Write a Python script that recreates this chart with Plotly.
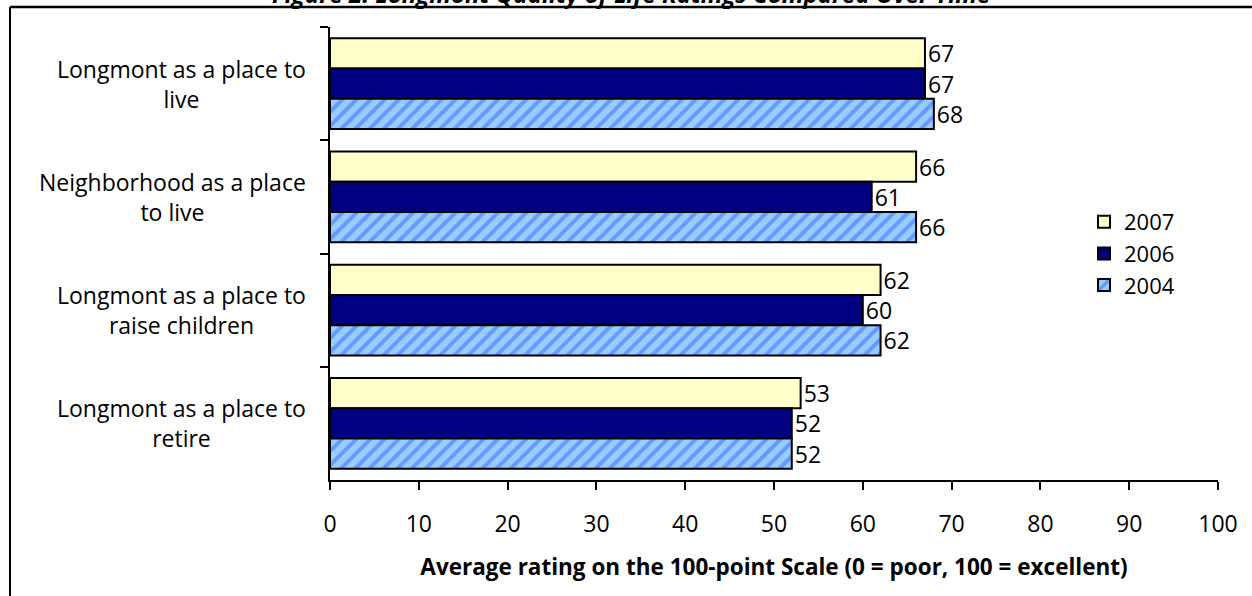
import plotly.graph_objects as go

# categories top to bottom
categories = [
    "Longmont as a place to<br>live",
    "Neighborhood as a place<br>to live",
    "Longmont as a place to<br>raise children",
    "Longmont as a place to<br>retire",
]
years = ["2007", "2006", "2004"]
ratings_2007 = [67, 66, 62, 53]
ratings_2006 = [67, 61, 60, 52]
ratings_2004 = [68, 66, 62, 52]
x_ticks = [0, 10, 20, 30, 40, 50, 60, 70, 80, 90, 100]

FONT = "Open Sans"
W, H = 1252, 596
# plot area in pixels
L, R, T, B = 330, 1218, 27, 480


def px_x(p):
    return (p - L) / (R - L)


def px_y(p):
    return (B - p) / (B - T)


plots = []
styles = [
    dict(color="#FFFFCC"),
    dict(color="#000080"),
    dict(color="#99CCFF", pattern=dict(shape="/", fgcolor="#3366FF", size=10, solidity=0.4)),
]
for name, vals, st in zip(years, [ratings_2007, ratings_2006, ratings_2004], styles):
    plots.append(go.Bar(
        name=name,
        y=categories,
        x=vals,
        orientation="h",
        text=[str(v) for v in vals],
        textposition="outside",
        textfont=dict(family=FONT, size=23, color="black"),
        constraintext="none",
        cliponaxis=False,
        marker=dict(line=dict(color="black", width=2), **st),
    ))

# category labels, centred lines, right edge next to the axis
annotations = []
for c in categories:
    annotations.append(dict(
        xref="paper", yref="y", x=px_x(308), y=c,
        text=c, showarrow=False, xanchor="right", align="center",
        font=dict(family=FONT, size=23, color="black"),
    ))
annotations.append(dict(
    xref="paper", yref="paper", x=px_x(631), y=px_y(-7),
    text="<b><i>Figure 2: Longmont Quality of Life Ratings Compared Over Time</i></b>",
    showarrow=False, xanchor="center", yanchor="middle",
    font=dict(family=FONT, size=24, color="black"),
))

shapes = [
    dict(type="line", xref="paper", yref="paper", x0=px_x(10), x1=px_x(W + 10),
         y0=px_y(7), y1=px_y(7), line=dict(color="black", width=2.5)),
    dict(type="line", xref="paper", yref="paper", x0=px_x(10), x1=px_x(10),
         y0=px_y(7), y1=px_y(H + 10), line=dict(color="black", width=2)),
]

layout = go.Layout(
    width=W, height=H, autosize=False,
    margin=dict(l=L, r=W - R, t=T, b=H - B, pad=0),
    paper_bgcolor="white", plot_bgcolor="white",
    barmode="group", bargap=0.2, bargroupgap=0,
    font=dict(family=FONT, size=23, color="black"),
    xaxis=dict(
        range=[0, 100], tickvals=x_ticks, showgrid=False, zeroline=False,
        showline=True, linecolor="black", linewidth=2,
        ticks="outside", ticklen=8, tickwidth=2, tickcolor="black",
        ticklabelstandoff=14,
        tickfont=dict(family=FONT, size=23),
        title=dict(text="<b>Average rating on the 100-point Scale (0 = poor, 100 = excellent)</b>",
                   font=dict(family=FONT, size=22.5), standoff=22),
    ),
    yaxis=dict(
        type="category", autorange="reversed", showgrid=False, zeroline=False,
        showline=True, linecolor="black", linewidth=2,
        ticks="outside", tickson="boundaries", ticklen=8, tickwidth=2, tickcolor="black",
        showticklabels=False,
    ),
    legend=dict(
        x=px_x(1084), y=0.5, xanchor="left", yanchor="middle",
        font=dict(family=FONT, size=22), bgcolor="rgba(0,0,0,0)",
        traceorder="normal", itemwidth=30,
    ),
    annotations=annotations,
    shapes=shapes,
    showlegend=True,
)

fig = go.Figure(plots, layout)
fig.write_html("out.html", config={"displayModeBar": False},
               post_script="document.body.style.margin='0';")
